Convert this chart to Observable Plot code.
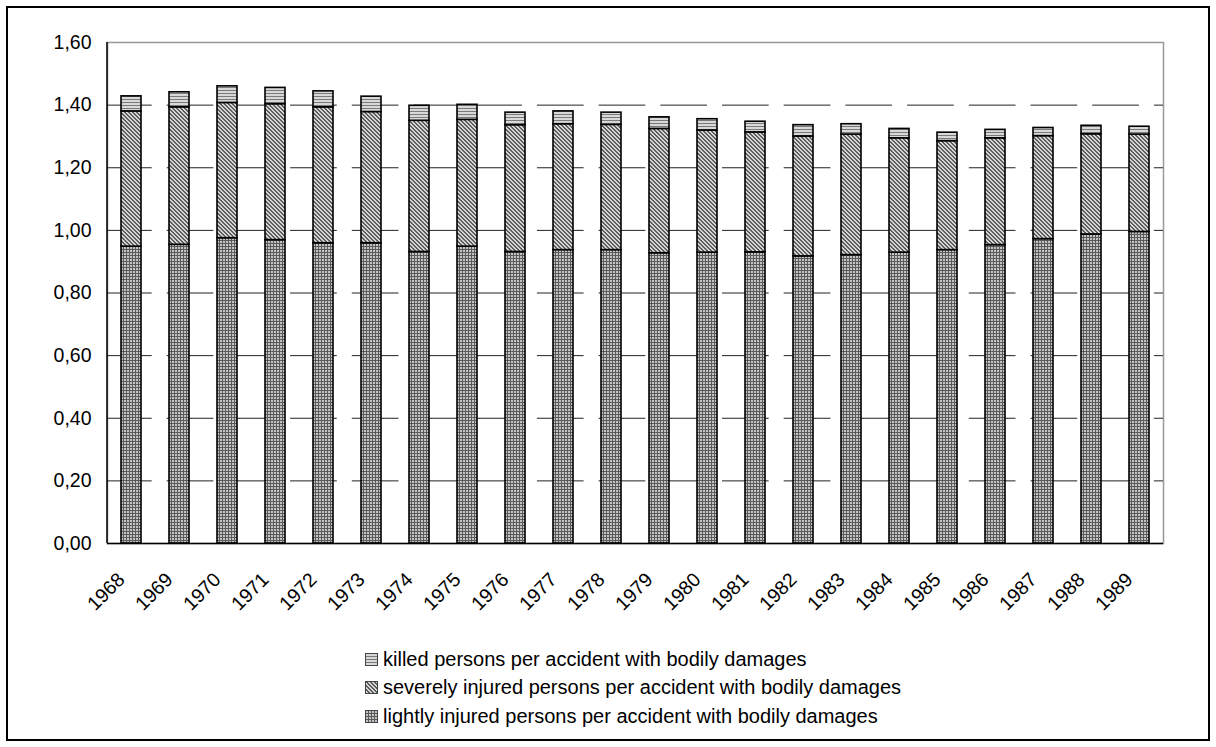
<!DOCTYPE html>
<html>
<head>
<meta charset="utf-8">
<script src="https://cdn.jsdelivr.net/npm/d3@7"></script>
<script src="https://cdn.jsdelivr.net/npm/@observablehq/plot@0.6"></script>
<style>
  html, body { margin: 0; padding: 0; background: #fff; }
  body { width: 1216px; height: 747px; position: relative; overflow: hidden; font-family: "Liberation Sans", Arial, sans-serif; }
  #border { position: absolute; left: 6px; top: 6px; width: 1200px; height: 731px; border: 2px solid #000; }
  #chart { position: absolute; left: 0; top: 0; }
  #legend { position: absolute; left: 365px; top: 645px; font-size: 20px; color: #000; }
  .row { height: 28.5px; display: flex; align-items: center; white-space: nowrap; }
  .row svg { margin-right: 5px; flex: none; }
</style>
</head>
<body>
<svg width="0" height="0" style="position:absolute">
  <defs>
    <pattern id="pKilled" patternUnits="userSpaceOnUse" width="4" height="3">
      <rect width="4" height="3" fill="#d8d8d8"/>
      <rect width="4" height="1" fill="#7a7a7a"/>
    </pattern>
    <pattern id="pSevere" patternUnits="userSpaceOnUse" width="4" height="4">
      <rect width="4" height="4" fill="#d6d6d6"/>
      <rect x="0" y="0" width="1" height="1" fill="#5e5e5e"/><rect x="1" y="0" width="1" height="1" fill="#5e5e5e"/>
      <rect x="1" y="1" width="1" height="1" fill="#5e5e5e"/><rect x="2" y="1" width="1" height="1" fill="#5e5e5e"/>
      <rect x="2" y="2" width="1" height="1" fill="#5e5e5e"/><rect x="3" y="2" width="1" height="1" fill="#5e5e5e"/>
      <rect x="3" y="3" width="1" height="1" fill="#5e5e5e"/><rect x="0" y="3" width="1" height="1" fill="#5e5e5e"/>
    </pattern>
    <pattern id="pLight" patternUnits="userSpaceOnUse" width="3" height="3">
      <rect width="3" height="3" fill="#c4c4c4"/>
      <rect width="3" height="1" fill="#5a5a5a"/>
      <rect width="1" height="3" fill="#5a5a5a"/>
    </pattern>
  </defs>
</svg>
<div id="border"></div>
<div id="chart"></div>
<div id="legend"></div>
<script>
// ---- data ----
const years = ["1968","1969","1970","1971","1972","1973","1974","1975","1976","1977","1978",
               "1979","1980","1981","1982","1983","1984","1985","1986","1987","1988","1989"];
const seriesNames = [
  "lightly injured persons per accident with bodily damages",
  "severely injured persons per accident with bodily damages",
  "killed persons per accident with bodily damages"
];
const lightlyInjured = [0.948,0.954,0.975,0.969,0.959,0.959,0.931,0.948,0.931,0.937,0.937,
                        0.927,0.929,0.930,0.917,0.921,0.929,0.937,0.953,0.972,0.987,0.995];
const severelyInjured = [0.432,0.439,0.432,0.434,0.434,0.419,0.419,0.405,0.405,0.402,0.400,
                         0.397,0.390,0.383,0.383,0.385,0.365,0.348,0.341,0.329,0.320,0.311];
const killed = [0.048,0.048,0.053,0.052,0.051,0.049,0.048,0.048,0.040,0.041,0.039,
                0.037,0.036,0.034,0.036,0.033,0.030,0.027,0.027,0.026,0.027,0.025];
const yTicks = [0,0.2,0.4,0.6,0.8,1.0,1.2,1.4,1.6];
const patterns = ["url(#pLight)","url(#pSevere)","url(#pKilled)"];

// long table built from the arrays
const rows = [];
years.forEach((yr, i) => {
  rows.push({year: yr, series: seriesNames[0], value: lightlyInjured[i]});
  rows.push({year: yr, series: seriesNames[1], value: severelyInjured[i]});
  rows.push({year: yr, series: seriesNames[2], value: killed[i]});
});

const fmt = d => d3.format(".2f")(d).replace(".", ",");

const leftLine = (index, scales, values, dims) => {
  const ns = "http://www.w3.org/2000/svg";
  const l = document.createElementNS(ns, "line");
  l.setAttribute("x1", dims.marginLeft); l.setAttribute("x2", dims.marginLeft);
  l.setAttribute("y1", scales.y(1.6)); l.setAttribute("y2", scales.y(0));
  l.setAttribute("stroke", "#000"); l.setAttribute("stroke-width", 1.5);
  return l;
};

const chart = Plot.plot({
  width: 1216,
  height: 620,
  marginTop: 42,
  marginBottom: 77,
  marginLeft: 107,
  marginRight: 53,
  style: {fontFamily: "'Liberation Sans', Arial, sans-serif", fontSize: "19.5px", background: "transparent", overflow: "visible", color: "#000"},
  x: {type: "band", domain: years, paddingInner: 0.583, paddingOuter: 0.2915, axis: null},
  y: {domain: [0, 1.6], label: null},
  color: {type: "ordinal", domain: seriesNames, range: patterns},
  marks: [
    Plot.frame({stroke: "#999", strokeWidth: 1.5}),
    Plot.ruleY(yTicks.filter(d => d > 0 && d < 1.6), {stroke: "#222", strokeWidth: 1, strokeDasharray: "46.7 15", strokeDashoffset: 2}),
    Plot.barY(rows, {x: "year", y: "value", fill: "series", stroke: "#000", strokeWidth: 1.6}),
    Plot.ruleY([0], {stroke: "#000", strokeWidth: 1.5}),
    leftLine,
    Plot.axisY({ticks: yTicks, tickFormat: fmt, tickSize: 0, tickPadding: 16, fontSize: 19.5}),
    Plot.text(years, {x: d => d, frameAnchor: "bottom", rotate: -45, textAnchor: "end", lineAnchor: "middle", dx: -10, dy: 33, fontSize: 19.5, fill: "#000"})
  ]
});
document.getElementById("chart").appendChild(chart);

// legend (below the svg)
const legend = document.getElementById("legend");
[2, 1, 0].forEach(k => {
  const row = document.createElement("div");
  row.className = "row";
  row.innerHTML = `<svg width="13" height="13"><rect x="0.5" y="0.5" width="12" height="12" fill="${patterns[k]}" stroke="#444" stroke-width="1"/></svg><span>${seriesNames[k]}</span>`;
  legend.appendChild(row);
});
</script>
</body>
</html>
